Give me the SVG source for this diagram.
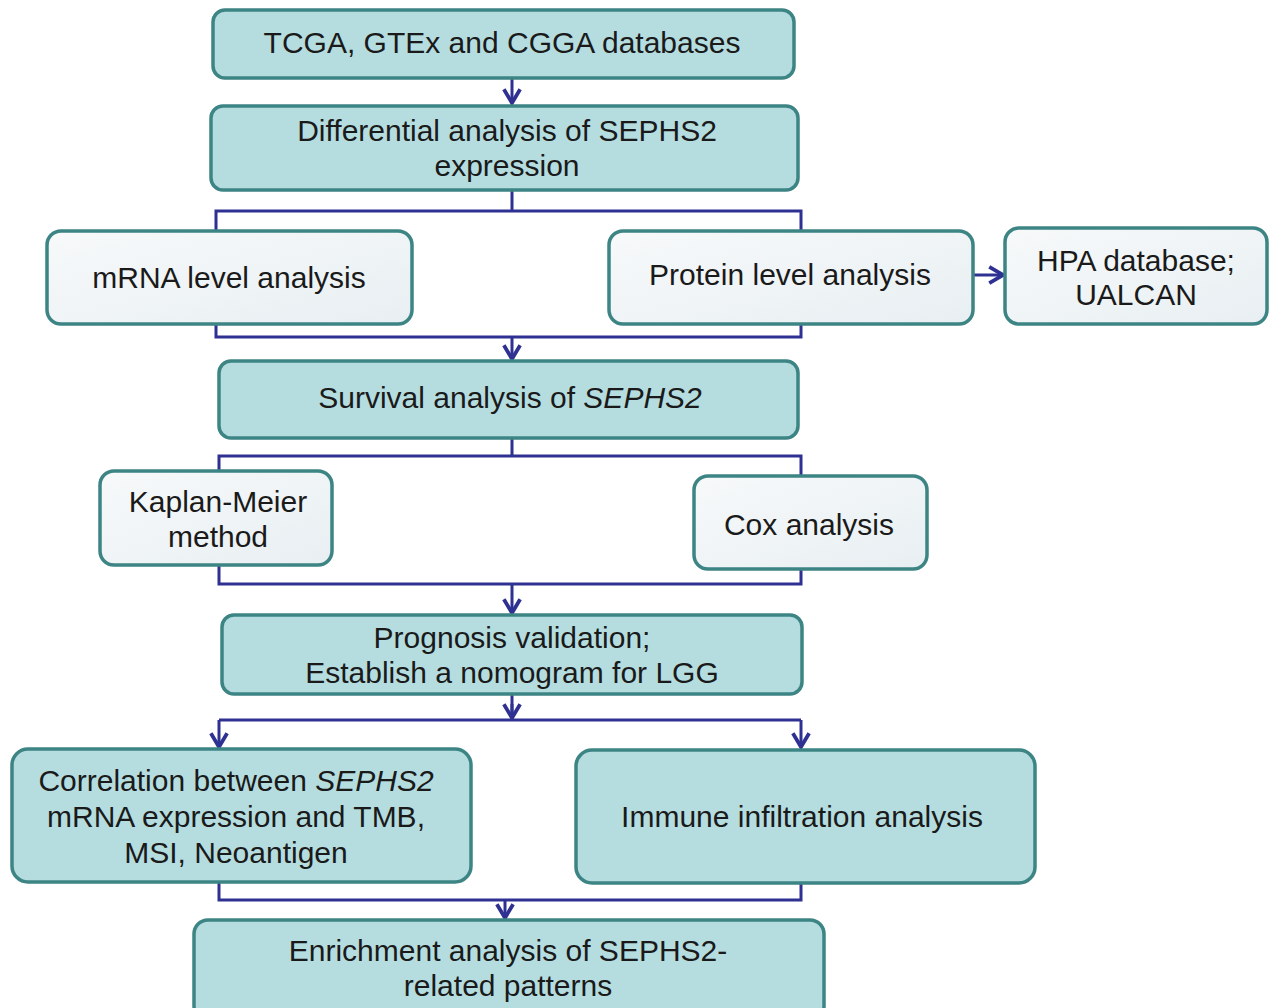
<svg xmlns="http://www.w3.org/2000/svg" width="1269" height="1008" viewBox="0 0 1269 1008">
<defs>
<linearGradient id="lg" x1="0" y1="0" x2="1" y2="1">
<stop offset="0" stop-color="#f7f9fa"/>
<stop offset="1" stop-color="#e8eff2"/>
</linearGradient>
<marker id="ah" markerUnits="userSpaceOnUse" markerWidth="20" markerHeight="20" refX="14" refY="8" orient="auto" viewBox="0 0 16 16">
<path d="M3,1.5 L14,8 L3,14.5" fill="none" stroke="#2e3192" stroke-width="3" stroke-linejoin="miter"/>
</marker>
<style>
.tb{fill:#b5dde0;stroke:#3c8584;stroke-width:3.5}
.lb{fill:url(#lg);stroke:#3c8584;stroke-width:3.5}
.t{font-family:"Liberation Sans",Arial,sans-serif;font-size:30px;fill:#1a1a1a;text-anchor:middle}
.c{fill:none;stroke:#2e3192;stroke-width:3}
</style>
</defs>
<rect width="1269" height="1008" fill="#ffffff"/>
<g id="connectors">
<path class="c" d="M512,78 V103" marker-end="url(#ah)"/>
<path class="c" d="M512,190 V211 M216,231 V211 H801 V231"/>
<path class="c" d="M216,324 V337 H801 V324"/>
<path class="c" d="M512,337 V359" marker-end="url(#ah)"/>
<path class="c" d="M973,275 H1003" marker-end="url(#ah)"/>
<path class="c" d="M512,438 V456 M219,471 V456 H801 V476"/>
<path class="c" d="M219,565 V584 H801 V569"/>
<path class="c" d="M512,584 V613" marker-end="url(#ah)"/>
<path class="c" d="M512,694 V718"/>
<path class="c" d="M512,704 V718" marker-end="url(#ah)"/>
<path class="c" d="M219,720 H801"/>
<path class="c" d="M219,720 V747" marker-end="url(#ah)"/>
<path class="c" d="M801,720 V747" marker-end="url(#ah)"/>
<path class="c" d="M219,882 V900 H801 V883"/>
<path class="c" d="M505,900 V918" marker-end="url(#ah)"/>
</g>
<g id="n1"><rect class="tb" x="213" y="10" width="581" height="68" rx="12"/><text class="t" x="502" y="53">TCGA, GTEx and CGGA databases</text></g>
<g id="n2"><rect class="tb" x="211" y="106" width="587" height="84" rx="12"/><text class="t" x="507" y="141">Differential analysis of SEPHS2</text><text class="t" x="507" y="176">expression</text></g>
<g id="n3"><rect class="lb" x="47" y="231" width="365" height="93" rx="14"/><text class="t" x="229" y="288">mRNA level analysis</text></g>
<g id="n4"><rect class="lb" x="609" y="231" width="364" height="93" rx="14"/><text class="t" x="790" y="285">Protein level analysis</text></g>
<g id="n5"><rect class="lb" x="1005" y="228" width="262" height="96" rx="14"/><text class="t" x="1136" y="271">HPA database;</text><text class="t" x="1136" y="305">UALCAN</text></g>
<g id="n6"><rect class="tb" x="219" y="361" width="579" height="77" rx="12"/><text class="t" x="510" y="408">Survival analysis of <tspan font-style="italic">SEPHS2</tspan></text></g>
<g id="n7"><rect class="lb" x="100" y="471" width="232" height="94" rx="14"/><text class="t" x="218" y="512">Kaplan-Meier</text><text class="t" x="218" y="547">method</text></g>
<g id="n8"><rect class="lb" x="694" y="476" width="233" height="93" rx="14"/><text class="t" x="809" y="535">Cox analysis</text></g>
<g id="n9"><rect class="tb" x="222" y="615" width="580" height="79" rx="12"/><text class="t" x="512" y="648">Prognosis validation;</text><text class="t" x="512" y="683">Establish a nomogram for LGG</text></g>
<g id="n10"><rect class="tb" x="12" y="749" width="459" height="133" rx="16"/><text class="t" x="236" y="791">Correlation between <tspan font-style="italic">SEPHS2</tspan></text><text class="t" x="236" y="827">mRNA expression and TMB,</text><text class="t" x="236" y="863">MSI, Neoantigen</text></g>
<g id="n11"><rect class="tb" x="576" y="750" width="459" height="133" rx="16"/><text class="t" x="802" y="827">Immune infiltration analysis</text></g>
<g id="n12"><rect class="tb" x="194" y="920" width="630" height="100" rx="14"/><text class="t" x="508" y="961">Enrichment analysis of SEPHS2-</text><text class="t" x="508" y="996">related patterns</text></g>
</svg>
